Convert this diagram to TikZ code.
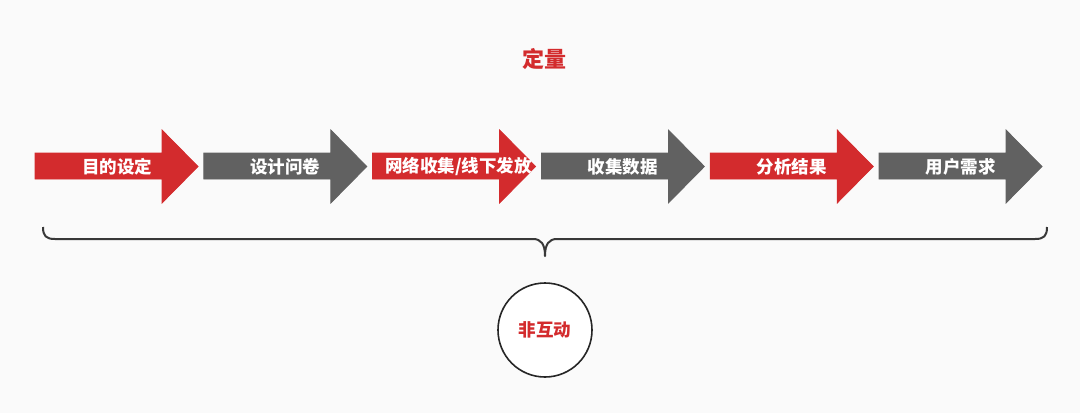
\documentclass[tikz,border=0pt]{standalone}
\usepackage{fontspec}
\newfontfamily\cjk{Noto Sans CJK SC}
\definecolor{liang}{HTML}{D32B2D}
\definecolor{hui}{HTML}{616161}
\definecolor{bg}{HTML}{FAFAFA}
\tikzset{
	jiantou/.style={draw=white, line width=0.8pt},
	biaoqian/.style={font=\cjk\bfseries\fontsize{17.5}{17.5}\selectfont, text=white, inner sep=0pt},
}
\begin{document}
\begin{tikzpicture}[x=1pt, y=-1pt]
		% фон
		\fill [bg] ( 0, 0 ) rectangle ( 1080, 413 );
		\useasboundingbox ( 0, 0 ) rectangle ( 1080, 413 );

		% заголовок
		\node [font=\cjk\bfseries\fontsize{22}{22}\selectfont, text=liang, inner sep=0pt] (dingliang) at ( 544, 59 ) {定量};

		% стрелки
		\fill [jiantou, liang] ( 35.0, 153 ) -- ( 162.0, 153 ) -- ( 162.0, 130 ) -- ( 198.0, 166.5 ) -- ( 162.0, 203 ) -- ( 162.0, 179 ) -- ( 35.0, 179 ) -- cycle;
		\node [biaoqian] (mubiao) at ( 117, 166.5 ) {目的设定};

		\fill [jiantou, hui] ( 203.8, 153 ) -- ( 330.8, 153 ) -- ( 330.8, 130 ) -- ( 366.8, 166.5 ) -- ( 330.8, 203 ) -- ( 330.8, 179 ) -- ( 203.8, 179 ) -- cycle;
		\node [biaoqian] (wenjuan) at ( 285.3, 166.5 ) {设计问卷};

		\fill [jiantou, liang] ( 372.6, 153 ) -- ( 499.6, 153 ) -- ( 499.6, 130 ) -- ( 535.6, 166.5 ) -- ( 499.6, 203 ) -- ( 499.6, 179 ) -- ( 372.6, 179 ) -- cycle;
		\node [biaoqian] (shouji) at ( 458.5, 166.5 ) {网络收集/线下发放};

		\fill [jiantou, hui] ( 541.4, 153 ) -- ( 668.4, 153 ) -- ( 668.4, 130 ) -- ( 704.4, 166.5 ) -- ( 668.4, 203 ) -- ( 668.4, 179 ) -- ( 541.4, 179 ) -- cycle;
		\node [biaoqian] (shuju) at ( 622.9, 166.5 ) {收集数据};

		\fill [jiantou, liang] ( 710.2, 153 ) -- ( 837.2, 153 ) -- ( 837.2, 130 ) -- ( 873.2, 166.5 ) -- ( 837.2, 203 ) -- ( 837.2, 179 ) -- ( 710.2, 179 ) -- cycle;
		\node [biaoqian] (fenxi) at ( 791.7, 166.5 ) {分析结果};

		\fill [jiantou, hui] ( 879.0, 153 ) -- ( 1006.0, 153 ) -- ( 1006.0, 130 ) -- ( 1042.0, 166.5 ) -- ( 1006.0, 203 ) -- ( 1006.0, 179 ) -- ( 879.0, 179 ) -- cycle;
		\node [biaoqian] (xuqiu) at ( 960.5, 166.5 ) {用户需求};

		% скобка
		\draw [line width=2pt, color=black!78, line join=round]
			( 43, 227 ) .. controls ( 43, 236 ) and ( 46, 239 ) .. ( 55, 239 )
			-- ( 533, 239 ) .. controls ( 541, 239 ) and ( 545, 244 ) .. ( 545, 256 )
			.. controls ( 545, 244 ) and ( 549, 239 ) .. ( 557, 239 )
			-- ( 1035, 239 ) .. controls ( 1044, 239 ) and ( 1047, 236 ) .. ( 1047, 227 );

		% круг
		\node [circle, draw=black!85, line width=1.6pt, fill=white, minimum size=94pt, inner sep=0pt, font=\cjk\bfseries\fontsize{17.5}{17.5}\selectfont, text=liang] (feihudong) at ( 545, 330 ) {非互动};
	\end{tikzpicture}
\end{document}
